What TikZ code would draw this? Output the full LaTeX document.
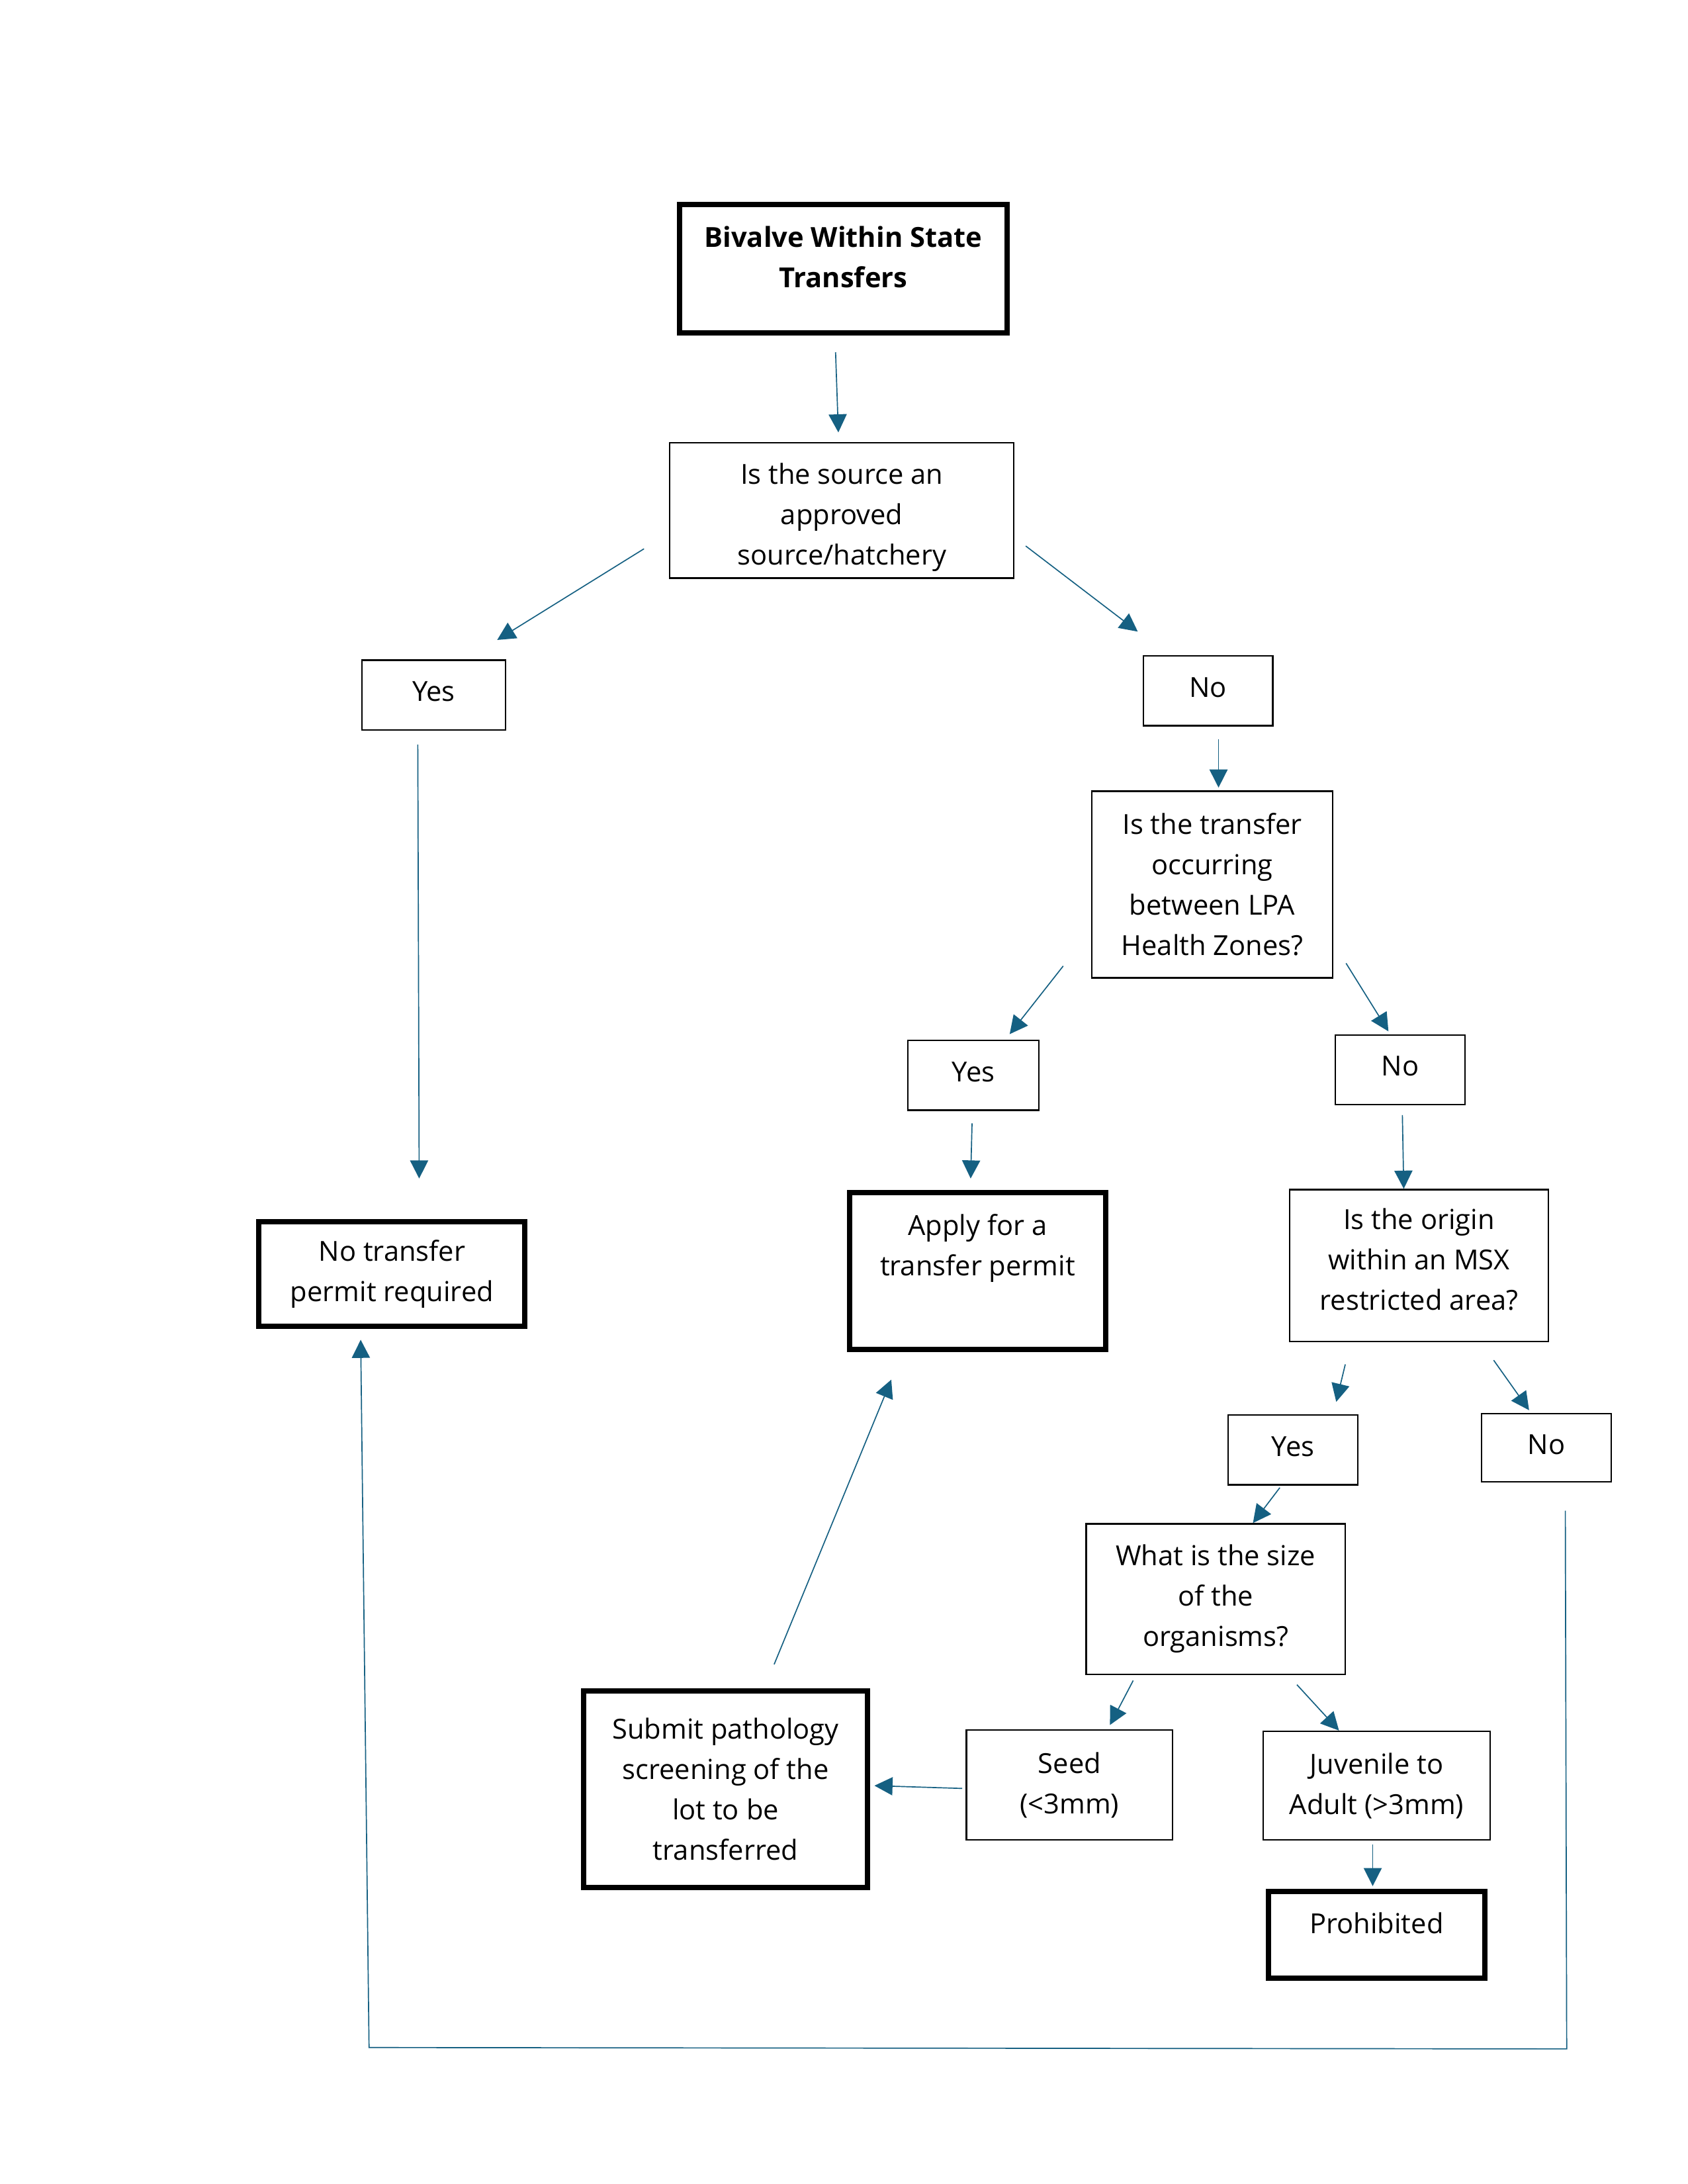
\documentclass[tikz,border=0pt]{standalone}
\usepackage{fontspec}
\setmainfont{Open Sans}
\usetikzlibrary{arrows.meta}
\definecolor{linkblue}{HTML}{156082}
\newcommand{\boxfont}{\fontsize{9.9pt}{14.5pt}\selectfont}

\begin{document}
\begin{tikzpicture}[
  x=0.5pt, y=-0.5pt,
  box/.style={draw, align=center, inner sep=0pt, line width=0.55pt, font=\boxfont},
  endbox/.style={box, line width=1.9pt},
  titlebox/.style={endbox, font=\boxfont\bfseries},
  conn/.style={draw=linkblue, line width=0.4pt, -{Triangle[length=6.5pt,width=6.5pt]}},
]
\useasboundingbox (0,0) rectangle (1212,1568);

% top of the chart
\node[titlebox, minimum width=117.5pt, minimum height=46pt] (title) at (605.5,193) {Bivalve Within State\\Transfers\\[-6pt]{}};
\node[box, minimum width=123.5pt, minimum height=48.5pt] (q1) at (604.5,366.5) {\rule{0pt}{12.5pt}Is the source an\\approved\\source/hatchery};
\node[box, minimum width=51.5pt, minimum height=25pt] (yes1) at (311.5,499) {Yes\\[-12pt]{}};
\node[box, minimum width=46.5pt, minimum height=25pt] (no1) at (867.5,496) {No\\[-12pt]{}};
\node[endbox, minimum width=95.5pt, minimum height=37.5pt] (nopermit) at (281.5,914.5) {No transfer\\permit required};

% LPA health zones
\node[box, minimum width=86.5pt, minimum height=67pt] (q2) at (870.5,635) {Is the transfer\\occurring\\between LPA\\Health Zones?};
\node[box, minimum width=47pt, minimum height=25pt] (yes2) at (699,772) {Yes\\[-12pt]{}};
\node[box, minimum width=46.5pt, minimum height=25pt] (no2) at (1005.5,768) {No\\[-12pt]{}};
\node[endbox, minimum width=92pt, minimum height=56.5pt] (apply) at (702,912.5) {Apply for a\\transfer permit\\[4pt]{}};

% MSX area and size
\node[box, minimum width=93pt, minimum height=54.5pt] (q3) at (1019,908.5) {Is the origin\\within an MSX\\restricted area?\\[-10pt]{}};
\node[box, minimum width=46.5pt, minimum height=25pt] (yes3) at (928.5,1041) {Yes\\[-12pt]{}};
\node[box, minimum width=46.5pt, minimum height=24.5pt] (no3) at (1110.5,1039.5) {No\\[-12pt]{}};
\node[box, minimum width=93pt, minimum height=54pt] (q4) at (873,1148) {What is the size\\of the\\organisms?};
\node[box, minimum width=74pt, minimum height=39.5pt] (seed) at (768,1281.5) {Seed\\(<3mm)};
\node[box, minimum width=81.5pt, minimum height=39pt] (juv) at (988.5,1282) {Juvenile to\\Adult (>3mm)};
\node[endbox, minimum width=77.5pt, minimum height=31pt] (prohib) at (988.5,1389) {Prohibited\\[-6pt]{}};
\node[endbox, minimum width=102pt, minimum height=70.5pt] (submit) at (521,1284.5) {Submit pathology\\screening of the\\lot to be\\transferred};

\draw[conn] ([xshift=-2.75pt,yshift=-6pt]title.south) -- ([xshift=-1.25pt,yshift=3.5pt]q1.north);
\draw[conn] ([xshift=-9pt,yshift=-13.75pt]q1.west) -- ([xshift=22.75pt,yshift=7pt]yes1.north);
\draw[conn] ([xshift=4pt,yshift=-12.75pt]q1.east) -- ([xshift=-25.25pt,yshift=8.5pt]no1.north);
\draw[conn] ([xshift=-5.75pt,yshift=-5pt]yes1.south) -- ([xshift=9.75pt,yshift=14.5pt]nopermit.north);
\draw[conn] ([xshift=3.75pt,yshift=-4.5pt]no1.south) -- ([xshift=2.25pt,yshift=1pt]q2.north);
\draw[conn] ([xshift=-10pt,yshift=4.5pt]q2.south west) -- ([xshift=13pt,yshift=2pt]yes2.north);
\draw[conn] ([xshift=4.5pt,yshift=5.5pt]q2.south east) -- ([xshift=-4.25pt,yshift=1pt]no2.north);
\draw[conn] ([xshift=-0.5pt,yshift=-4.5pt]yes2.south) -- ([xshift=-2.5pt,yshift=4pt]apply.north);
\draw[conn] ([xshift=0.75pt,yshift=-3.5pt]no2.south) -- ([xshift=-5.5pt]q3.north);
\draw[conn] ([xshift=-26.5pt,yshift=-8pt]q3.south) -- ([xshift=15.5pt,yshift=4.5pt]yes3.north);
\draw[conn] ([xshift=-20pt,yshift=-6.5pt]q3.south east) -- ([xshift=-6.25pt,yshift=1pt]no3.north);
\draw[conn] ([xshift=-4.75pt,yshift=-0.75pt]yes3.south) -- ([xshift=13.35pt]q4.north);
\draw[conn] ([xshift=-29.65pt,yshift=-2pt]q4.south) -- ([xshift=14.5pt,yshift=1.5pt]seed.north);
\draw[conn] ([xshift=29.15pt,yshift=-3.5pt]q4.south) -- ([xshift=-13.5pt]juv.north);
\draw[conn] ([xshift=-1.4pt,yshift=-1.3pt]juv.south) -- ([xshift=-1.4pt,yshift=1pt]prohib.north);
\draw[conn] ([xshift=-1.25pt,yshift=-1.25pt]seed.west) -- ([xshift=1.5pt,yshift=1.25pt]submit.east);
\draw[conn] ([xshift=17.45pt,yshift=8.6pt]submit.north) -- ([xshift=-31pt,yshift=-9.8pt]apply.south);

% back to the no permit box
\coordinate (loopR) at (1125,1471);
\coordinate (loopL) at (265,1470);
\draw[conn] ([xshift=6.75pt,yshift=-10pt]no3.south) -- (loopR) -- (loopL) -- ([xshift=-11.25pt,yshift=-4pt]nopermit.south);
\end{tikzpicture}
\end{document}
